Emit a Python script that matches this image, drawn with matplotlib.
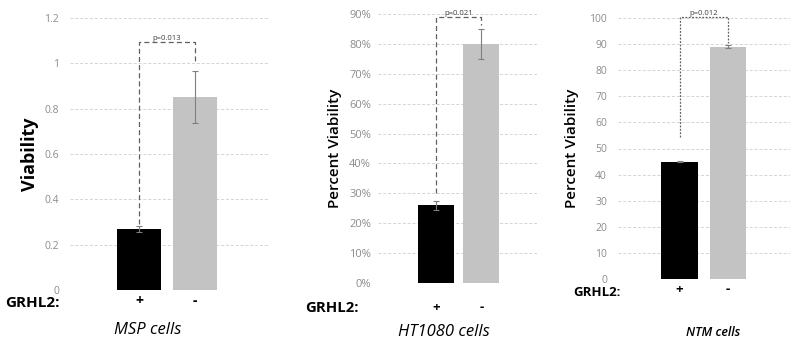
import matplotlib
matplotlib.use("Agg")
import matplotlib.pyplot as plt
import matplotlib.transforms as mtransforms

plt.rcParams['font.family'] = ['Open Sans', 'DejaVu Sans']

W, H = 800, 342

groups = ["+", "-"]
msp_vals = [0.27, 0.85]
msp_err = [0.012, 0.115]
ht_vals = [0.26, 0.80]
ht_err = [0.015, 0.05]
ntm_vals = [45, 89]
ntm_err = [0.3, 0.5]

msp_ticks = [0, 0.2, 0.4, 0.6, 0.8, 1, 1.2]
msp_tick_labels = ["0", "0.2", "0.4", "0.6", "0.8", "1", "1.2"]
ht_ticks = [0, 0.1, 0.2, 0.3, 0.4, 0.5, 0.6, 0.7, 0.8, 0.9]
ht_tick_labels = ["0%", "10%", "20%", "30%", "40%", "50%", "60%", "70%", "80%", "90%"]
ntm_ticks = [0, 10, 20, 30, 40, 50, 60, 70, 80, 90, 100]
ntm_tick_labels = [str(t) for t in ntm_ticks]

p_values = ["p=0.013", "p=0.021", "p=0.012"]
# bracket: (left leg bottom, top, right leg bottom)
brackets = [(0.29, 1.095, 1.0), (0.30, 0.89, 0.863), (54.5, 100.4, 90.3)]

fig = plt.figure(figsize=(W / 100, H / 100), dpi=100)


def add_ax(x0, y_top, x1, y_bot):
    return fig.add_axes([x0 / W, 1 - y_bot / H, (x1 - x0) / W, (y_bot - y_top) / H])


def panel(ax, vals, err, ticks, tick_labels, ymax, xlim, width, bracket, ptext, pdash,
          tick_size, tick_pad):
    ax.bar([0, 1], vals, width=width, color=["#000000", "#c3c3c3"], zorder=2)
    ax.errorbar([0, 1], vals, yerr=err, fmt="none", ecolor="#7f7f7f",
                elinewidth=0.8, capsize=2.5, capthick=0.8, zorder=3)
    ax.set_ylim(0, ymax)
    ax.set_xlim(*xlim)
    ax.set_yticks(ticks)
    ax.set_yticklabels(tick_labels, fontsize=tick_size, color="#8c8c8c")
    ax.set_xticks([])
    ax.tick_params(axis="y", length=0, pad=tick_pad)
    for s in ax.spines.values():
        s.set_visible(False)
    ax.grid(axis="y", color="#d4d4d4", linestyle=(0, (3, 2)), linewidth=0.7, zorder=0)
    lo, top, ro = bracket
    ax.plot([0, 0, 1, 1], [lo, top, top, ro], color="#606060", linestyle=pdash,
            linewidth=0.9, clip_on=False, zorder=4)
    ax.text(0.5, top, ptext, ha="center", va="bottom", fontsize=5.5,
            color="#404040")


def ylabel(ax, text, size, weight, px, x0, w):
    ax.set_ylabel(text, fontsize=size, fontweight=weight)
    ax.yaxis.set_label_coords((px - x0) / w, 0.5)
    ax.yaxis.label.set_verticalalignment("center")


# MSP cells
ax1 = add_ax(70, 18, 268, 290)
panel(ax1, msp_vals, msp_err, msp_ticks, msp_tick_labels, 1.2, (-1.23, 2.30), 0.79,
      brackets[0], p_values[0], (0, (4, 2.5)), 7.5, 8)
ylabel(ax1, "Viability", 13, "bold", 30, 70, 198)

# HT1080 cells
ax2 = add_ax(378, 14, 537, 283)
panel(ax2, ht_vals, ht_err, ht_ticks, ht_tick_labels, 0.9, (-1.27, 2.22), 0.79,
      brackets[1], p_values[1], (0, (4, 2.5)), 8, 5)
ylabel(ax2, "Percent Viability", 11, "semibold", 335, 378, 159)

# NTM cells
ax3 = add_ax(618, 18, 790, 279)
panel(ax3, ntm_vals, ntm_err, ntm_ticks, ntm_tick_labels, 100, (-1.27, 2.28), 0.76,
      brackets[2], p_values[2], (0, (1.5, 1.2)), 7.5, 8)
ylabel(ax3, "Percent Viability", 11, "semibold", 572, 618, 172)


def ftext(px, py, s, **kw):
    fig.text(px / W, 1 - py / H, s, **kw)


def signs(ax, py, bottom_px, height_px, size):
    trans = mtransforms.blended_transform_factory(ax.transData, ax.transAxes)
    for i, g in enumerate(groups):
        ax.text(i, (bottom_px - py) / height_px, g, transform=trans, ha="center",
                va="center", fontsize=size, fontweight="bold", clip_on=False)


signs(ax1, 301, 290, 272, 10)
signs(ax2, 308, 283, 269, 9.5)
signs(ax3, 290, 279, 261, 9.5)

ftext(5, 303, "GRHL2:", ha="left", va="center", fontsize=11, fontweight="bold")
ftext(305, 308, "GRHL2:", ha="left", va="center", fontsize=10.7, fontweight="bold")
ftext(573, 292, "GRHL2:", ha="left", va="center", fontsize=9.5, fontweight="bold")

ftext(148, 330, "MSP cells", ha="center", va="center", fontsize=12, style="italic")
ftext(444, 332, "HT1080 cells", ha="center", va="center", fontsize=12, style="italic")
ftext(713, 333, "NTM cells", ha="center", va="center", fontsize=9, style="italic",
      fontweight="semibold")

fig.savefig("out.png", dpi=100)
